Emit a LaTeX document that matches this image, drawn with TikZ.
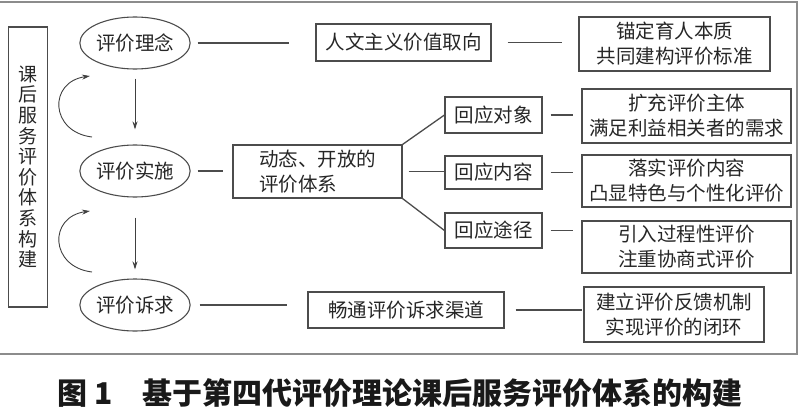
\documentclass[tikz,border=0pt]{standalone}
\usepackage{fontspec}
\usepackage{tikz}
\usetikzlibrary{shapes.geometric, arrows.meta}
\newfontfamily\cjk{Noto Sans CJK SC}

\begin{document}
\begin{tikzpicture}[x=1pt, y=-1pt,
    every node/.style={font=\cjk\fontsize{19.5}{25}\selectfont, text=black!85, inner sep=0pt},
    stage/.style={draw=black!70, line width=1.1pt, ellipse, minimum width=106pt, minimum height=52pt},
    box/.style={draw=black!70, line width=1.1pt, rectangle, align=center},
    link/.style={draw=black!70, line width=1.3pt},
    arrow/.style={draw=black!75, line width=0.9pt, -{Stealth[length=8pt, width=5pt]}}]
    \useasboundingbox (0,0) rectangle (800,412);
    \draw[black!45, line width=2.5pt] (-3,2) rectangle (797,354);

    \node[box, minimum width=39pt, minimum height=280pt, font=\cjk\fontsize{19}{20.6}\selectfont] (title) at (28,167) {课\\后\\服\\务\\评\\价\\体\\系\\构\\建};

    \node[stage] (idea) at (135,43) {评价理念};
    \node[stage] (impl) at (135,171) {评价实施};
    \node[stage] (need) at (135,305) {评价诉求};

    \node[box, minimum width=175pt, minimum height=37pt] (value) at (403.5,42.5) {人文主义价值取向};
    \node[box, minimum width=191pt, minimum height=54pt] (core) at (674.5,44) {锚定育人本质\\共同建构评价标准};
    \node[box, minimum width=169pt, minimum height=53pt, align=left] (open) at (317.5,171.5) {动态、开放的\\评价体系};
    \node[box, minimum width=97pt, minimum height=36pt] (who) at (493.5,115) {回应对象};
    \node[box, minimum width=97pt, minimum height=33pt] (what) at (493.5,172.5) {回应内容};
    \node[box, minimum width=97pt, minimum height=35pt] (how) at (493.5,230.5) {回应途径};
    \node[box, minimum width=209pt, minimum height=54pt] (whoR) at (686.5,116) {扩充评价主体\\满足利益相关者的需求};
    \node[box, minimum width=209pt, minimum height=52pt] (whatR) at (686.5,181) {落实评价内容\\凸显特色与个性化评价};
    \node[box, minimum width=209pt, minimum height=52pt] (howR) at (686.5,247) {引入过程性评价\\注重协商式评价};
    \node[box, minimum width=196pt, minimum height=36pt] (chan) at (406,310) {畅通评价诉求渠道};
    \node[box, minimum width=180pt, minimum height=55pt] (loop) at (674,314.5) {建立评价反馈机制\\实现评价的闭环};

    \draw[link, shorten <=7pt, shorten >=26pt] (idea.east) -- (idea.east -| value.west);
    \draw[link, shorten <=16pt, shorten >=16pt] (value.east) -- (value.east -| core.west);
    \draw[link, shorten <=7pt, shorten >=9pt] (impl.east) -- (impl.east -| open.west);
    \draw[link] (open.north east) -- (who.west);
    \draw[link, shorten <=6pt] (open.east) -- (open.east -| what.west);
    \draw[link] (open.south east) -- (how.west);
    \foreach \a/\b in {who/whoR, what/whatR, how/howR}
        \draw[link, shorten <=8pt, shorten >=8pt] (\a.east) -- (\a.east -| \b.west);
    \draw[link, shorten <=9pt, shorten >=20pt] (need.east) -- (need.east -| chan.west);
    \draw[link, shorten <=11pt, shorten >=1pt] (chan.east) -- (chan.east -| loop.west);

    \draw[arrow, shorten <=9pt, shorten >=15pt] (idea) -- (impl);
    \draw[arrow, shorten <=20pt, shorten >=9pt] (impl) -- (need);
    \foreach \y in {0,135}{
        \coordinate (from\y) at (92,137+\y);
        \coordinate (to\y) at (90,76+\y);
        \draw[arrow] (from\y) .. controls +(-42,-5) and +(-42,6) .. (to\y);
    }

    \node[font=\cjk\bfseries\fontsize{30}{32}\selectfont, text=black!90] (caption) at (400,393) {图 1\hspace{30pt}基于第四代评价理论课后服务评价体系的构建};
\end{tikzpicture}
\end{document}
